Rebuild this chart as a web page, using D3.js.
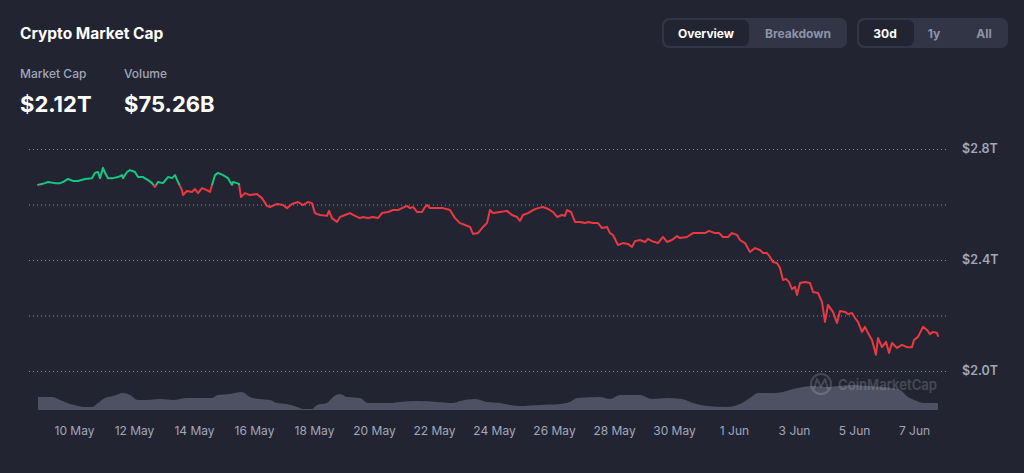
<!DOCTYPE html>
<html><head><meta charset="utf-8">
<script src="https://cdn.jsdelivr.net/npm/d3@7"></script>
<style>
html,body{margin:0;padding:0;background:#222531;}
svg{display:block;font-family:Inter,"Noto Sans",sans-serif;}
</style></head><body>
<svg id="c" width="1024" height="473"></svg>
<script>
// ---- data (days measured from 10 May 00:00) ----
const priceDays = [-1.2,-0.967,-0.867,-0.633,-0.467,-0.367,-0.2,-0.033,0.133,0.367,0.6,0.7,0.8,0.867,0.967,1.033,1.133,1.3,1.467,1.6,1.633,1.767,1.867,2.033,2.133,2.3,2.467,2.6,2.7,2.8,2.967,3.133,3.267,3.367,3.467,3.6,3.633,3.767,3.933,4.033,4.133,4.267,4.433,4.533,4.6,4.7,4.8,4.967,5.133,5.267,5.3,5.433,5.5,5.567,5.7,5.867,6.1,6.267,6.433,6.533,6.767,6.967,7.1,7.267,7.467,7.633,7.8,7.933,8.033,8.2,8.433,8.5,8.6,8.767,8.867,9.033,9.2,9.367,9.533,9.633,9.8,9.967,10.133,10.267,10.467,10.633,10.8,10.933,11.1,11.2,11.3,11.433,11.6,11.7,11.767,11.867,12.1,12.3,12.533,12.7,12.867,13.033,13.2,13.3,13.467,13.633,13.767,13.867,13.967,14.2,14.433,14.6,14.767,14.867,14.967,15.133,15.3,15.467,15.633,15.8,15.967,16.1,16.267,16.367,16.433,16.567,16.7,16.867,17.033,17.133,17.3,17.467,17.6,17.767,17.867,17.967,18.133,18.3,18.467,18.6,18.7,18.867,19.033,19.133,19.267,19.467,19.633,19.767,19.933,20.1,20.2,20.433,20.633,20.867,21.033,21.167,21.367,21.5,21.633,21.8,21.933,22.1,22.2,22.367,22.533,22.7,22.867,22.967,23.1,23.2,23.3,23.433,23.533,23.633,23.733,23.833,23.933,24.033,24.1,24.2,24.367,24.533,24.633,24.8,24.933,25.033,25.133,25.3,25.433,25.533,25.7,25.8,25.933,26.033,26.133,26.267,26.367,26.467,26.6,26.733,26.8,26.933,27.067,27.167,27.267,27.433,27.6,27.767,27.933,28.0,28.133,28.3,28.433,28.533,28.633,28.767,28.8];
const priceValues = [2.670,2.677,2.681,2.677,2.677,2.681,2.692,2.685,2.685,2.692,2.695,2.714,2.717,2.695,2.732,2.714,2.695,2.695,2.699,2.706,2.695,2.717,2.724,2.717,2.699,2.699,2.688,2.677,2.663,2.681,2.677,2.699,2.695,2.706,2.681,2.652,2.634,2.649,2.645,2.656,2.641,2.659,2.652,2.645,2.670,2.706,2.714,2.706,2.695,2.670,2.681,2.677,2.674,2.627,2.641,2.634,2.638,2.623,2.595,2.591,2.602,2.598,2.587,2.602,2.609,2.598,2.609,2.605,2.569,2.562,2.559,2.577,2.551,2.537,2.555,2.562,2.569,2.559,2.551,2.555,2.551,2.555,2.551,2.569,2.573,2.580,2.580,2.587,2.595,2.587,2.591,2.573,2.573,2.591,2.598,2.587,2.587,2.587,2.580,2.551,2.533,2.526,2.519,2.494,2.497,2.519,2.533,2.580,2.569,2.573,2.577,2.562,2.555,2.541,2.562,2.569,2.580,2.587,2.591,2.584,2.573,2.555,2.562,2.559,2.580,2.573,2.537,2.537,2.533,2.537,2.533,2.533,2.515,2.519,2.497,2.490,2.454,2.461,2.458,2.447,2.468,2.472,2.465,2.476,2.468,2.461,2.483,2.465,2.472,2.486,2.479,2.483,2.497,2.497,2.497,2.505,2.497,2.497,2.483,2.483,2.497,2.490,2.472,2.461,2.429,2.443,2.436,2.425,2.425,2.411,2.393,2.389,2.371,2.328,2.332,2.321,2.295,2.303,2.274,2.317,2.321,2.317,2.285,2.281,2.249,2.177,2.238,2.213,2.173,2.216,2.213,2.205,2.209,2.191,2.177,2.141,2.159,2.137,2.112,2.058,2.119,2.086,2.105,2.065,2.101,2.083,2.094,2.086,2.086,2.112,2.123,2.159,2.148,2.133,2.141,2.137,2.126];
const volumeDays = [-1.2,-0.733,-0.467,-0.133,0.133,0.367,0.6,0.8,1.033,1.3,1.633,1.867,2.133,2.433,2.867,3.3,3.767,4.2,4.6,4.8,5.2,5.6,5.867,6.2,6.533,6.767,7.1,7.433,7.633,7.933,8.1,8.433,8.633,8.867,9.1,9.533,9.8,10.2,10.533,10.867,11.433,12.1,12.633,12.867,13.367,13.767,14.2,14.533,14.867,15.533,16.2,16.533,16.767,17.533,17.867,18.2,18.867,19.267,19.767,20.267,20.633,21.1,21.767,22.2,22.533,22.8,23.3,23.633,23.967,24.3,24.633,25.1,25.533,25.967,26.433,26.967,27.533,27.8,28.1,28.3,28.767,28.8];
const volumeValues = [82,82,70,54,46,42,42,58,78,86,98,90,70,70,74,70,78,78,78,90,94,102,82,74,70,58,54,42,34,34,50,58,82,94,82,78,58,58,58,62,66,62,58,66,74,62,58,50,46,50,54,62,78,82,74,90,90,74,78,74,58,46,42,54,78,98,98,102,114,122,126,122,126,130,126,122,110,82,66,58,58,58];
const yTickValues = [2.0, 2.2, 2.4, 2.6, 2.8];
const yTickLabels = ["$2.0T", "", "$2.4T", "", "$2.8T"];
const xTickDays = [0, 2, 4, 6, 8, 10, 12, 14, 16, 18, 20, 22, 24, 26, 28];
const xTickLabels = ["10 May","12 May","14 May","16 May","18 May","20 May","22 May","24 May","26 May","28 May","30 May","1 Jun","3 Jun","5 Jun","7 Jun"];
const headerLabels = ["Market Cap", "Volume"];
const headerValues = ["$2.12T", "$75.26B"];
const viewButtons = ["Overview", "Breakdown"];
const rangeButtons = ["30d", "1y", "All"];

// ---- setup ----
const base = Date.UTC(2024, 4, 10);
const DAY = 86400000;
const toDate = d => new Date(base + d * DAY);
const svg = d3.select("#c");
const W = 1024, H = 473;
svg.append("rect").attr("width", W).attr("height", H).attr("fill", "#222531");

const x = d3.scaleUtc().domain([toDate(-1.2), toDate(28.8)]).range([38, 938]);
const y = d3.scaleLinear().domain([2.0, 2.8]).range([371, 149]);
const yv = d3.scaleLinear().domain([30, 150]).range([410, 380]);

// ---- header ----
svg.append("text").attr("x", 20).attr("y", 39).text("Crypto Market Cap")
  .attr("fill", "#ffffff").attr("font-size", 15.5).attr("font-weight", 700);
const hx = [20, 124];
headerLabels.forEach((t, i) => {
  svg.append("text").attr("x", hx[i]).attr("y", 78).text(t)
    .attr("fill", "#a1a7bb").attr("font-size", 12).attr("font-weight", 500);
  svg.append("text").attr("x", hx[i]).attr("y", 112).text(headerValues[i])
    .attr("fill", "#ffffff").attr("font-size", 22).attr("font-weight", 700);
});

// ---- buttons ----
function buttonGroup(x0, x1, items, centers, selW) {
  svg.append("rect").attr("x", x0).attr("y", 18).attr("width", x1 - x0).attr("height", 30)
    .attr("rx", 7).attr("fill", "#323546");
  svg.append("rect").attr("x", x0 + 2).attr("y", 20).attr("width", selW).attr("height", 26)
    .attr("rx", 6).attr("fill", "#222531");
  items.forEach((t, i) => {
    svg.append("text").attr("x", centers[i]).attr("y", 37.5).attr("text-anchor", "middle")
      .text(t).attr("font-size", 12).attr("font-weight", 700)
      .attr("fill", i === 0 ? "#ffffff" : "#8d93a5");
  });
}
buttonGroup(662, 847, viewButtons, [706, 798], 85);
buttonGroup(857, 1008, rangeButtons, [885, 934, 984], 55);

// ---- grid ----
const grid = svg.append("g");
yTickValues.forEach((v, i) => {
  grid.append("line").attr("x1", 29).attr("x2", 947).attr("y1", y(v) + 0.5).attr("y2", y(v) + 0.5)
    .attr("stroke", "#8a8fa0").attr("stroke-width", 1).attr("stroke-dasharray", "1 3");
  if (yTickLabels[i]) {
    grid.append("text").attr("x", 962).attr("y", y(v)).attr("dy", "0.35em").text(yTickLabels[i])
      .attr("fill", "#a1a7bb").attr("font-size", 12.5).attr("font-weight", 600);
  }
});

// ---- volume ----
const volData = volumeDays.map((d, i) => ({ t: toDate(d), v: volumeValues[i] }));
svg.append("path").datum(volData)
  .attr("d", d3.area().x(d => x(d.t)).y0(410).y1(d => yv(d.v)).curve(d3.curveMonotoneX))
  .attr("fill", "#4d5162");

// watermark
const wm = svg.append("g").attr("opacity", 0.16);
wm.append("circle").attr("cx", 821).attr("cy", 384).attr("r", 10)
  .attr("fill", "none").attr("stroke", "#ffffff").attr("stroke-width", 2);
wm.append("path").attr("d", "M814,389 L817,379 L821,387 L825,379 L828,389")
  .attr("fill", "none").attr("stroke", "#ffffff").attr("stroke-width", 2).attr("stroke-linejoin", "round");
wm.append("text").attr("x", 838).attr("y", 390).text("CoinMarketCap")
  .attr("fill", "#ffffff").attr("font-size", 15).attr("font-weight", 600)
  .attr("textLength", 99).attr("lengthAdjust", "spacingAndGlyphs");

// ---- price line ----
const pData = priceDays.map((d, i) => ({ t: toDate(d), v: priceValues[i] }));
const y0 = y(priceValues[0]);
const defs = svg.append("defs");
defs.append("clipPath").attr("id", "up").append("rect").attr("x", 0).attr("y", 0).attr("width", W).attr("height", y0);
defs.append("clipPath").attr("id", "down").append("rect").attr("x", 0).attr("y", y0).attr("width", W).attr("height", H - y0);
const line = d3.line().x(d => x(d.t)).y(d => y(d.v));
[["up", "#16c784"], ["down", "#ea3943"]].forEach(([id, col]) => {
  svg.append("path").datum(pData).attr("d", line).attr("clip-path", `url(#${id})`)
    .attr("fill", "none").attr("stroke", col).attr("stroke-width", 2)
    .attr("stroke-linejoin", "round").attr("stroke-linecap", "round");
});

// ---- x axis ----
const xAxis = d3.axisBottom(x).tickValues(xTickDays.map(toDate))
  .tickFormat((d, i) => xTickLabels[i]).tickSize(0).tickPadding(0);
const gx = svg.append("g").attr("transform", "translate(0,426)").call(xAxis);
gx.select(".domain").remove();
gx.selectAll("text").attr("fill", "#a1a7bb").attr("font-size", 12)
  .attr("font-family", "Inter, sans-serif").attr("dy", "0.71em");
</script>
</body></html>
